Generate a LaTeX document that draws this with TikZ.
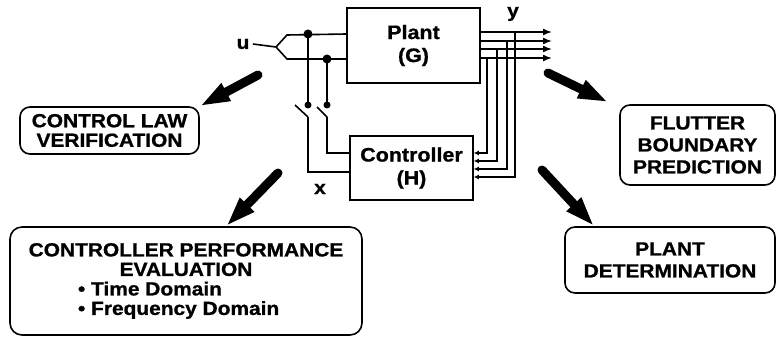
\documentclass[tikz,border=0pt]{standalone}
\usepackage{fontspec}
\setmainfont{Liberation Sans}
\newfontfamily\diagfont{Liberation Sans Bold}[FakeStretch=1.1, FakeBold=1]
\usetikzlibrary{arrows.meta}

\begin{document}
\begin{tikzpicture}[x=1pt,y=-1pt,
    block/.style={draw, line width=1.6pt, inner sep=0pt, align=center,
        font=\diagfont\fontsize{19.5}{23}\selectfont},
    result/.style={draw, line width=1.6pt, rounded corners=10pt, inner sep=0pt,
        align=center, font=\diagfont\fontsize{19}{19.5}\selectfont},
    wire/.style={line width=1.6pt},
    fat/.style={line width=9pt, line cap=round, -{Triangle[length=30pt,width=18pt]}},
    lbl/.style={font=\diagfont\fontsize{19}{20}\selectfont}]
    \useasboundingbox (0,0) rectangle (777,337);

    % Plant and controller blocks
    \node[block, minimum width=133pt, minimum height=75pt] (plant) at (413.5,45.5) {Plant\\(G)};
    \node[block, minimum width=123pt, minimum height=64pt] (ctrl) at (411.5,168) {Controller\\(H)};

    % Input u, its two branches and the switches
    \node[lbl] (u) at (243,44) {u};
    \coordinate (fork) at (276,47);
    \coordinate (j1) at (308,34);
    \coordinate (j2) at (327,59);
    \coordinate (s1) at (308,105);
    \coordinate (s2) at (327,105);
    \coordinate (p1) at (308,117);
    \coordinate (p2) at (327,117);
    \draw[wire] (u.east) -- (fork);
    \draw[wire] (fork) -- ++(11,-12) -- (plant.west |- j1);
    \draw[wire] (fork) -- ++(11,12) -- (plant.west |- j2);
    \draw[wire] (j1) -- (s1);
    \draw[wire] (j2) -- (s2);
    \draw[wire] (p1) -- ++(-13,-12);
    \draw[wire] (p2) -- ++(-10,-10);
    \draw[wire] (p1) |- ([yshift=-4pt]ctrl.west);
    \draw[wire] (p2) |- ([yshift=15pt]ctrl.west);
    \foreach \p/\r in {j1/4.5, j2/4.5, s1/3.5, s2/3.5}
        \fill (\p) circle (\r pt);
    \node[lbl] (x) at (320,189) {x};

    % Outputs y and feedback to the controller
    \foreach \i/\yy/\xx/\s in {1/32/515/-9, 2/41/507/-1, 3/49/497/7, 4/58/487/15} {
        \coordinate (out\i) at (552,\yy);
        \coordinate (tap\i) at (\xx,\yy);
        \draw[wire, -{Latex[length=9pt,width=7pt]}] (plant.east |- out\i) -- (out\i);
        \draw[wire, -{Latex[length=5pt,width=5pt]}] (tap\i) |- ([yshift=\s pt]ctrl.east);
    }
    \node[lbl] (y) at (513,14) {y};

    % Uses of the model
    \node[result, minimum width=179pt, minimum height=47pt] (clv) at (109.5,130.5)
        {CONTROL LAW\\VERIFICATION};
    \node[result, rounded corners=12pt, minimum width=352pt, minimum height=108pt] (cpe) at (186,281)
        {CONTROLLER PERFORMANCE\\EVALUATION\\
         \makebox[216pt][l]{\textbullet\ Time Domain}\\
         \makebox[216pt][l]{\textbullet\ Frequency Domain}};
    \node[result, font=\diagfont\fontsize{19}{22}\selectfont, minimum width=155pt, minimum height=80pt] (fbp) at (697.5,145)
        {FLUTTER\\BOUNDARY\\PREDICTION};
    \node[result, font=\diagfont\fontsize{19}{22}\selectfont, minimum width=210pt, minimum height=66pt] (pd) at (670,260)
        {PLANT\\DETERMINATION};

    % Big arrows
    \coordinate (t1) at (258,75);
    \coordinate (t2) at (278,173);
    \coordinate (t3) at (548,73);
    \coordinate (t4) at (542,170);
    \draw[fat] (t1) -- (clv.north east);
    \draw[fat] (t2) -- ([xshift=217pt]cpe.north west);
    \draw[fat] (t3) -- ([xshift=-11pt,yshift=2pt]fbp.north west);
    \draw[fat] (t4) -- ([xshift=30pt]pd.north west);
\end{tikzpicture}
\end{document}
